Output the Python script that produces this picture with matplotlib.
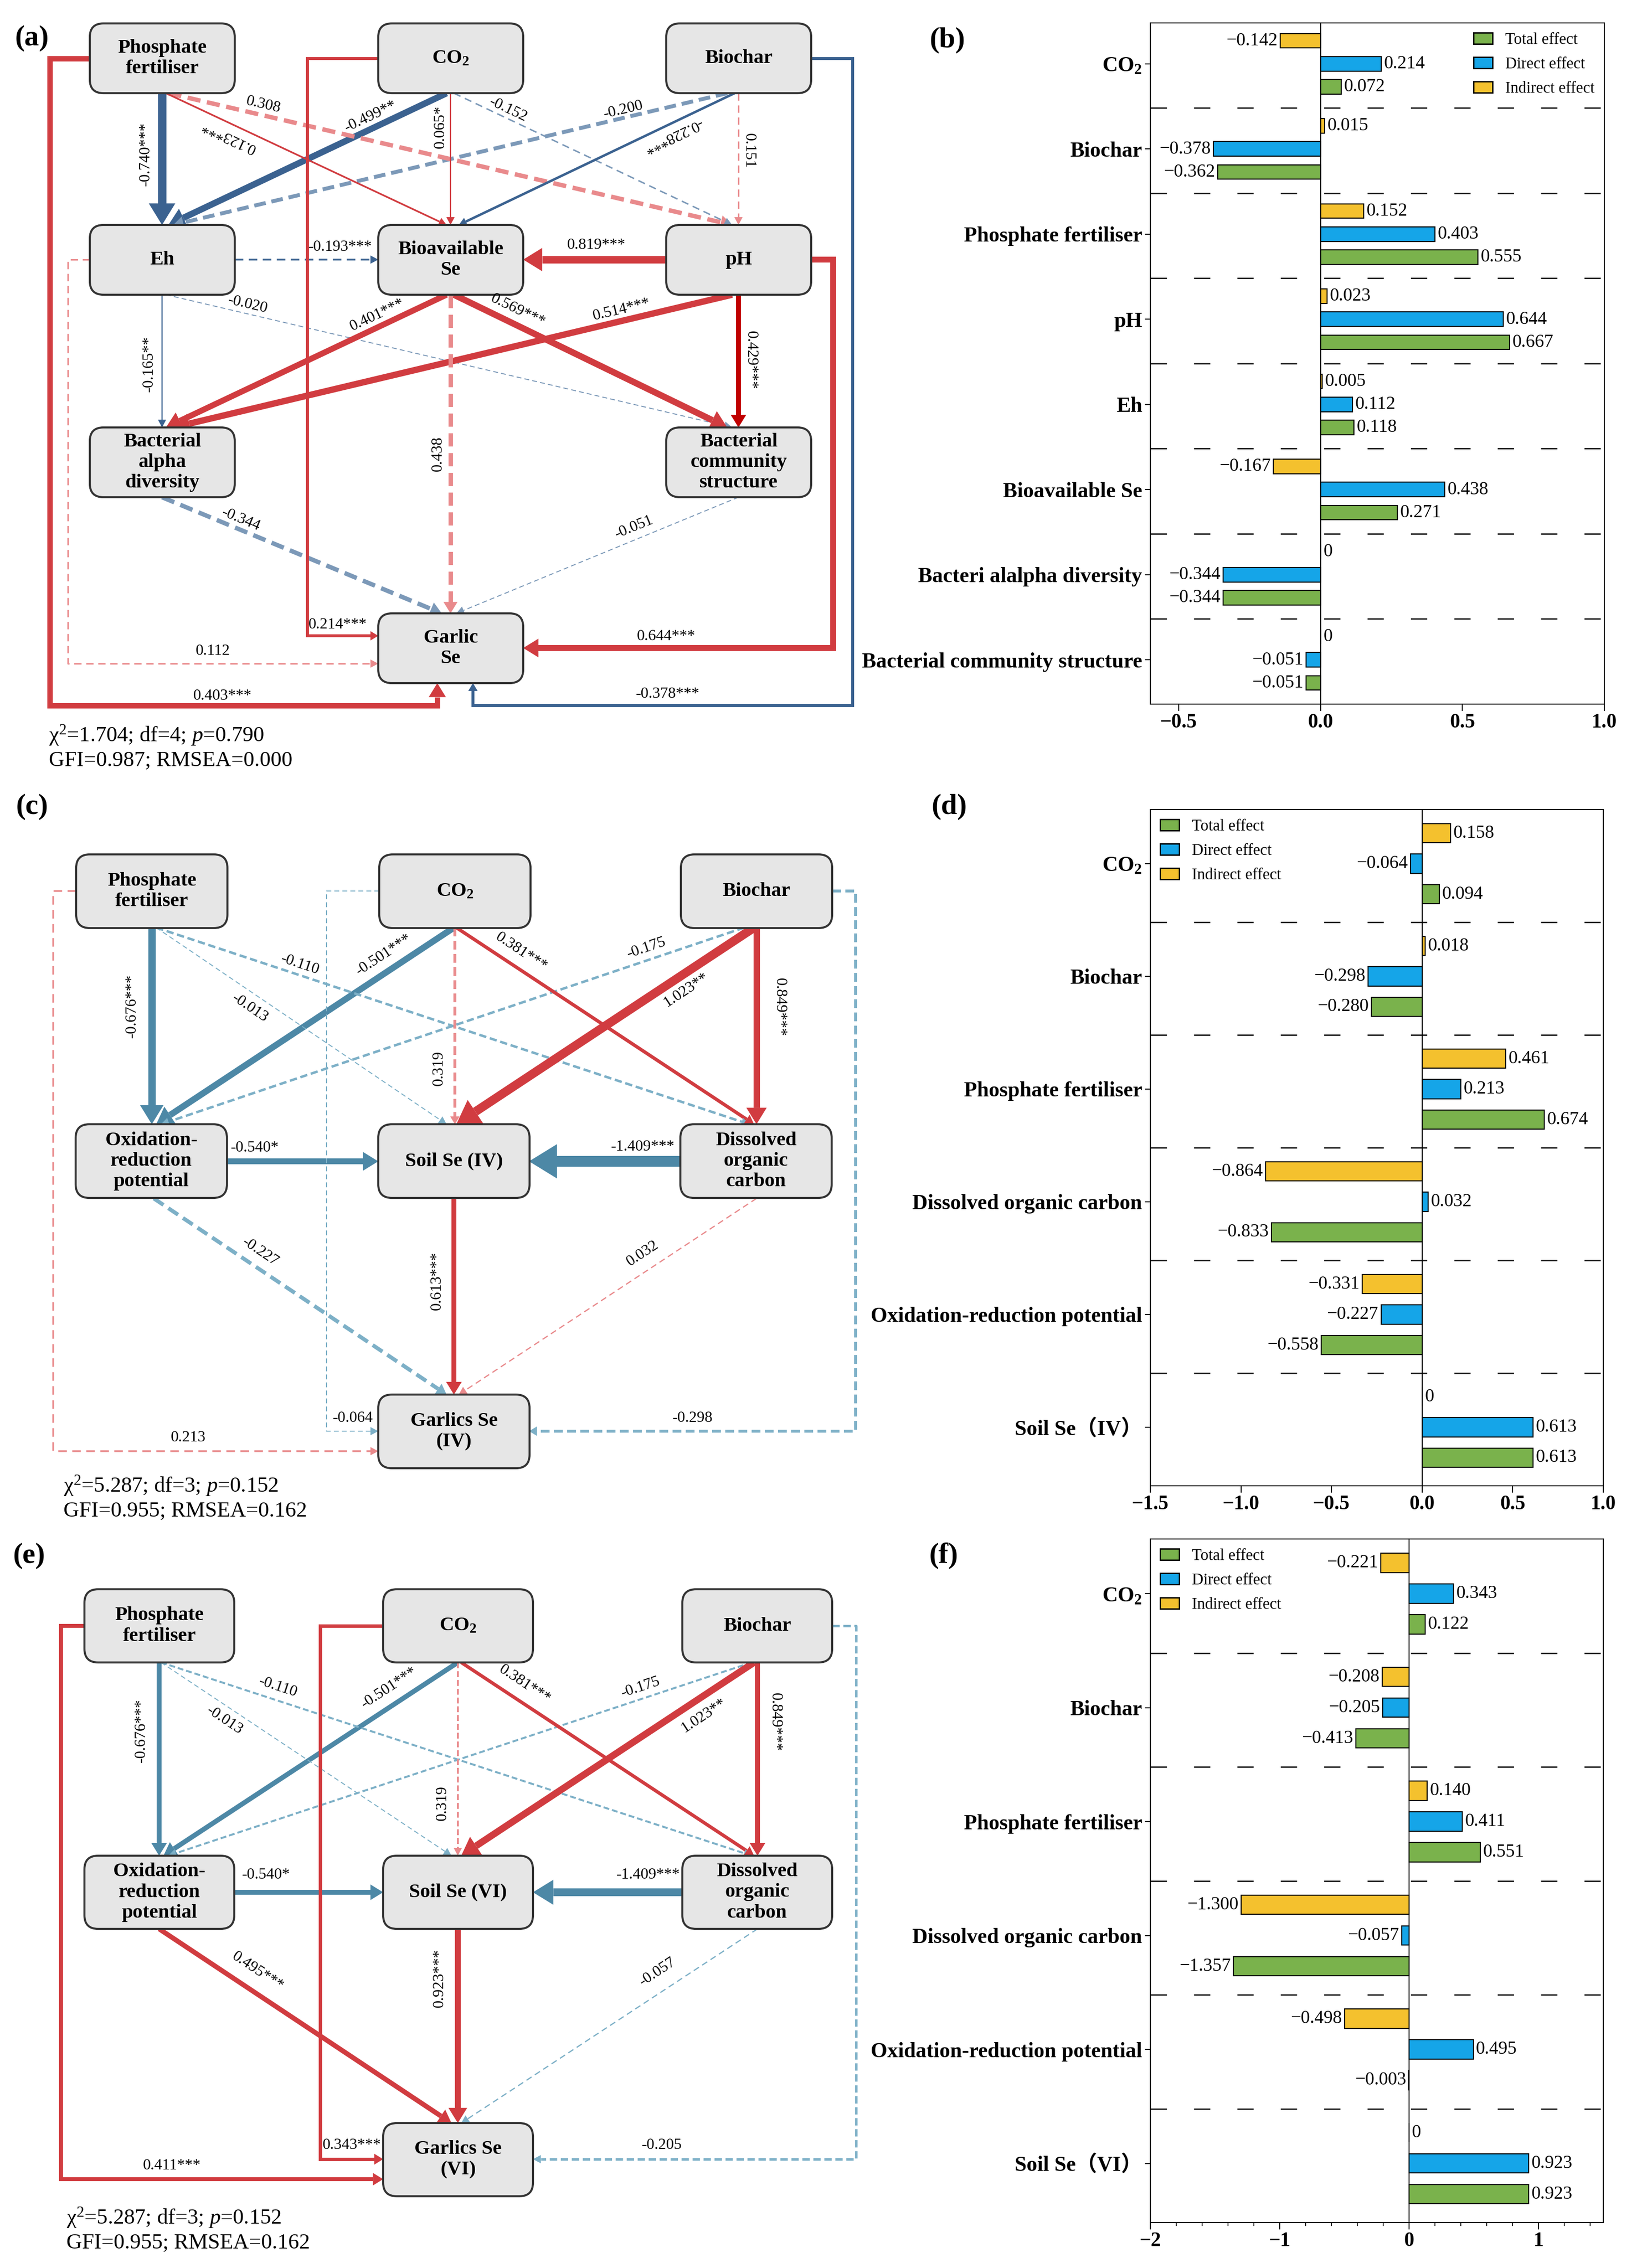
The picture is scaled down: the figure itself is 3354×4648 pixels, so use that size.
import numpy as np
import matplotlib
matplotlib.use('Agg')
import matplotlib.pyplot as plt
from matplotlib.patches import FancyBboxPatch, Polygon, Patch
from matplotlib.ticker import MultipleLocator

plt.rcParams['font.family'] = ['Liberation Serif', 'Noto Sans CJK SC', 'DejaVu Sans']
plt.rcParams['mathtext.fontset'] = 'custom'
plt.rcParams['mathtext.rm'] = 'Liberation Serif'
plt.rcParams['mathtext.it'] = 'Liberation Serif:italic'
plt.rcParams['mathtext.bf'] = 'Liberation Serif:bold'

W, H, DPI = 3355, 4648, 100
PT = 72.0 / DPI   # points per pixel

# ---------------- data: effect bar charts ----------------
b_cats = [r'$\mathbf{CO_2}$', 'Biochar', 'Phosphate fertiliser', 'pH', 'Eh',
          'Bioavailable Se', 'Bacteri alalpha diversity', 'Bacterial community structure']
b_total = [0.072, -0.362, 0.555, 0.667, 0.118, 0.271, -0.344, -0.051]
b_direct = [0.214, -0.378, 0.403, 0.644, 0.112, 0.438, -0.344, -0.051]
b_indirect = [-0.142, 0.015, 0.152, 0.023, 0.005, -0.167, 0, 0]

d_cats = [r'$\mathbf{CO_2}$', 'Biochar', 'Phosphate fertiliser', 'Dissolved organic carbon',
          'Oxidation-reduction potential', 'Soil Se（IV）']
d_total = [0.094, -0.280, 0.674, -0.833, -0.558, 0.613]
d_direct = [-0.064, -0.298, 0.213, 0.032, -0.227, 0.613]
d_indirect = [0.158, 0.018, 0.461, -0.864, -0.331, 0]

f_cats = [r'$\mathbf{CO_2}$', 'Biochar', 'Phosphate fertiliser', 'Dissolved organic carbon',
          'Oxidation-reduction potential', 'Soil Se（VI）']
f_total = [0.122, -0.413, 0.551, -1.357, -0.003, 0.923]
f_direct = [0.343, -0.205, 0.411, -0.057, 0.495, 0.923]
f_indirect = [-0.221, -0.208, 0.140, -1.300, -0.498, 0]

legend_labels = ['Total effect', 'Direct effect', 'Indirect effect']

# ---------------- data: path diagrams ----------------
names_a = {'PF': 'Phosphate\nfertiliser', 'CO2': r'$\mathbf{CO_2}$', 'BC': 'Biochar',
           'Eh': 'Eh', 'BSe': 'Bioavailable\nSe', 'pH': 'pH',
           'BA': 'Bacterial\nalpha\ndiversity', 'BCS': 'Bacterial\ncommunity\nstructure',
           'GSe': 'Garlic\nSe'}
coef_a = ['-0.740***', '-0.499**', '-0.200', '0.308', '0.123***', '0.065*', '-0.152',
          '-0.228***', '0.151', '-0.193***', '0.819***', '-0.165**', '-0.020', '0.401***',
          '0.514***', '0.569***', '0.429***', '0.438', '-0.344', '-0.051',
          '0.403***', '0.214***', '0.112', '0.644***', '-0.378***']
fit_a = [r'χ$^{2}$=1.704; df=4; $p$=0.790', 'GFI=0.987; RMSEA=0.000']

names_c = {'PF': 'Phosphate\nfertiliser', 'CO2': r'$\mathbf{CO_2}$', 'BC': 'Biochar',
           'ORP': 'Oxidation-\nreduction\npotential', 'SSe': 'Soil Se (IV)',
           'DOC': 'Dissolved\norganic\ncarbon', 'GSe': 'Garlics Se\n(IV)'}
coef_c = ['-0.676***', '-0.501***', '-0.175', '-0.110', '-0.013', '0.319', '0.381***',
          '1.023**', '0.849***', '-0.540*', '-1.409***', '-0.227', '0.613***', '0.032',
          '0.213', '-0.064', '-0.298']
fit_c = [r'χ$^{2}$=5.287; df=3; $p$=0.152', 'GFI=0.955; RMSEA=0.162']

names_e = dict(names_c, SSe='Soil Se (VI)', GSe='Garlics Se\n(VI)')
coef_e = ['-0.676***', '-0.501***', '-0.175', '-0.110', '-0.013', '0.319', '0.381***',
          '1.023**', '0.849***', '-0.540*', '-1.409***', '0.495***', '0.923***', '-0.057',
          '0.411***', '0.343***', '-0.205']
fit_e = fit_c

# ---------------- colours ----------------
R, RL, RD = '#d13c40', '#e98a8c', '#c00000'
B, BL = '#3b6290', '#7c99b8'
T, TL = '#4d88a6', '#7db0c7'
GRN, BLU, YEL = '#7ab24c', '#15a5e8', '#f4c12e'

fig = plt.figure(figsize=(W / DPI, H / DPI), dpi=DPI)
dg = fig.add_axes([0, 0, 1, 1])
dg.set_xlim(0, W)
dg.set_ylim(H, 0)
dg.axis('off')


def node(x0, y0, w, h, text):
    dg.add_patch(FancyBboxPatch((x0, y0), w, h, boxstyle='round,pad=0,rounding_size=28',
                                fc='#e6e6e6', ec='#333333', lw=3, zorder=5))
    dg.text(x0 + w / 2, y0 + h / 2, text, ha='center', va='center', fontsize=29.5,
            fontweight='bold', linespacing=1.18, zorder=6)


def arrow(pts, color, lw_px, dashed):
    pts = np.asarray(pts, float)
    hl, hw = max(16, 2.6 * lw_px), max(17, 3.2 * lw_px)
    p1, p2 = pts[-2], pts[-1]
    d = (p2 - p1) / np.hypot(*(p2 - p1))
    base = p2 - d * hl
    line = np.vstack([pts[:-1], base])
    if dashed:
        ls = (0, (5, 3.2)) if lw_px < 4 else (0, (3, 1.5))
    else:
        ls = '-'
    dg.plot(line[:, 0], line[:, 1], color=color, lw=lw_px * PT, ls=ls,
            solid_capstyle='butt', dash_capstyle='butt', solid_joinstyle='miter', zorder=2)
    n = np.array([-d[1], d[0]])
    dg.add_patch(Polygon([p2, base + n * hw / 2, base - n * hw / 2], closed=True,
                         fc=color, ec='none', zorder=3))


def edge_label(pts, text, xy, rot):
    if rot in ('auto', 'flip'):
        (x1, y1), (x2, y2) = pts[0], pts[-1]
        a = -np.degrees(np.arctan2(y2 - y1, x2 - x1))
        if a > 90:
            a -= 180
        if a <= -90:
            a += 180
        if rot == 'flip':
            a += 180
        rot = a
    dg.text(xy[0], xy[1], text, ha='center', va='center', fontsize=23, rotation=rot,
            rotation_mode='anchor', zorder=6)


def diagram(boxes, size, names, geo, coefs, fit, fit_xy, tag, tag_xy):
    for g, c in zip(geo, coefs):
        pts, col, lw, dashed, lxy, rot = g
        arrow(pts, col, lw, dashed)
        edge_label(pts, c, lxy, rot)
    for k, (x0, y0) in boxes.items():
        node(x0, y0, size[0], size[1], names[k])
    for i, s in enumerate(fit):
        dg.text(fit_xy[0], fit_xy[1] + i * 51, s, ha='left', va='center', fontsize=32)
    dg.text(tag_xy[0], tag_xy[1], tag, ha='left', va='center', fontsize=43, fontweight='bold')


# ---- panel (a) layout ----
boxes_a = {'PF': (184, 48), 'CO2': (775, 48), 'BC': (1365, 48),
           'Eh': (184, 461), 'BSe': (775, 461), 'pH': (1365, 461),
           'BA': (184, 876), 'BCS': (1365, 876), 'GSe': (775, 1257)}
geo_a = [
    ([(332, 191), (332, 461)], B, 17, False, (298, 316), 90),
    ([(915, 191), (345, 461)], B, 13, False, (759, 239), 'auto'),
    ([(1490, 191), (355, 461)], BL, 8, True, (1277, 225), 'auto'),
    ([(345, 191), (1500, 461)], RL, 9, True, (540, 215), 'auto'),
    ([(340, 191), (915, 461)], R, 3.5, False, (468, 280), 'flip'),
    ([(923, 191), (923, 461)], R, 2.5, False, (902, 260), 90),
    ([(930, 191), (1500, 461)], BL, 3, True, (1041, 225), 'auto'),
    ([(1505, 191), (940, 461)], B, 5, False, (1378, 278), 'flip'),
    ([(1513, 191), (1513, 461)], RL, 3, True, (1534, 309), -90),
    ([(481, 532), (775, 532)], B, 3.5, True, (697, 507), 0),
    ([(1365, 532), (1072, 532)], R, 15, False, (1222, 503), 0),
    ([(332, 604), (332, 876)], B, 2.5, False, (305, 746), 90),
    ([(340, 604), (1500, 876)], BL, 2, True, (508, 624), 'auto'),
    ([(915, 604), (340, 876)], R, 12, False, (773, 646), 'auto'),
    ([(1500, 604), (355, 876)], R, 13, False, (1273, 635), 'auto'),
    ([(930, 604), (1490, 876)], R, 13, False, (1061, 636), 'auto'),
    ([(1513, 604), (1513, 876)], RD, 10, False, (1538, 738), -90),
    ([(923, 604), (923, 1257)], RL, 9, True, (897, 930), 90),
    ([(332, 1019), (905, 1257)], BL, 9, True, (494, 1065), 'auto'),
    ([(1513, 1019), (935, 1257)], BL, 2, True, (1299, 1080), 'auto'),
    ([(184, 120), (102, 120), (102, 1446), (896, 1446), (896, 1400)], R, 11, False, (456, 1426), 0),
    ([(775, 120), (630, 120), (630, 1303), (775, 1303)], R, 6, False, (692, 1281), 0),
    ([(184, 532), (139, 532), (139, 1360), (775, 1360)], RL, 3, True, (436, 1335), 0),
    ([(1662, 532), (1707, 532), (1707, 1328), (1072, 1328)], R, 12, False, (1365, 1304), 0),
    ([(1662, 120), (1747, 120), (1747, 1446), (969, 1446), (969, 1400)], B, 6, False, (1368, 1423), 0),
]
diagram(boxes_a, (297, 143), names_a, geo_a, coef_a, fit_a, (100, 1507), '(a)', (30, 78))

# ---- panel (c) layout ----
boxes_c = {'PF': (156, 1751), 'CO2': (777, 1751), 'BC': (1395, 1751),
           'ORP': (155, 2304), 'SSe': (775, 2304), 'DOC': (1394, 2304), 'GSe': (775, 2858)}
geo_c = [
    ([(311, 1901), (311, 2304)], T, 15, False, (270, 2062), 90),
    ([(930, 1901), (320, 2304)], T, 13, False, (786, 1957), 'auto'),
    ([(1525, 1901), (330, 2304)], TL, 5, True, (1325, 1943), 'auto'),
    ([(320, 1901), (1535, 2304)], TL, 5, True, (615, 1977), 'auto'),
    ([(320, 1901), (915, 2304)], TL, 2, True, (512, 2066), 'auto'),
    ([(932, 1901), (932, 2304)], RL, 6, True, (899, 2189), 90),
    ([(935, 1901), (1545, 2304)], R, 7, False, (1068, 1951), 'auto'),
    ([(1545, 1901), (935, 2304)], R, 18, False, (1405, 2029), 'auto'),
    ([(1550, 1901), (1550, 2304)], R, 13, False, (1597, 2064), -90),
    ([(465, 2380), (775, 2380)], T, 12, False, (522, 2352), 0),
    ([(1394, 2380), (1084, 2380)], T, 22, False, (1317, 2350), 0),
    ([(315, 2456), (915, 2858)], TL, 8, True, (533, 2566), 'auto'),
    ([(930, 2456), (930, 2858)], R, 10, False, (895, 2625), 90),
    ([(1550, 2456), (940, 2858)], RL, 2.5, True, (1317, 2569), 'auto'),
    ([(156, 1826), (109, 1826), (109, 2974), (775, 2974)], RL, 3.5, True, (386, 2947), 0),
    ([(777, 1826), (669, 1826), (669, 2933), (775, 2933)], TL, 2, True, (723, 2906), 0),
    ([(1705, 1826), (1753, 1826), (1753, 2933), (1084, 2933)], TL, 6, True, (1419, 2906), 0),
]
diagram(boxes_c, (310, 151), names_c, geo_c, coef_c, fit_c, (130, 3045), '(c)', (32, 1653))

# ---- panel (e) layout ----
boxes_e = {'PF': (173, 3257), 'CO2': (785, 3257), 'BC': (1398, 3257),
           'ORP': (173, 3803), 'SSe': (785, 3803), 'DOC': (1398, 3803), 'GSe': (785, 4351)}
geo_e = [
    ([(326, 3407), (326, 3803)], T, 10, False, (289, 3547), 90),
    ([(938, 3407), (335, 3803)], T, 10, False, (797, 3459), 'auto'),
    ([(1540, 3407), (345, 3803)], TL, 4, True, (1313, 3458), 'auto'),
    ([(330, 3407), (1540, 3803)], TL, 4, True, (570, 3458), 'auto'),
    ([(330, 3407), (925, 3803)], TL, 2, True, (460, 3526), 'auto'),
    ([(938, 3407), (938, 3803)], RL, 4, True, (906, 3695), 90),
    ([(945, 3407), (1545, 3803)], R, 7, False, (1075, 3452), 'auto'),
    ([(1545, 3407), (945, 3803)], R, 14, False, (1441, 3516), 'auto'),
    ([(1552, 3407), (1552, 3803)], R, 10, False, (1588, 3529), -90),
    ([(479, 3878), (785, 3878)], T, 10, False, (545, 3843), 0),
    ([(1398, 3878), (1092, 3878)], T, 16, False, (1328, 3843), 0),
    ([(326, 3953), (925, 4351)], R, 10, False, (528, 4040), 'auto'),
    ([(938, 3953), (938, 4351)], R, 12, False, (900, 4054), 90),
    ([(1552, 3953), (945, 4351)], TL, 2.5, True, (1347, 4041), 'auto'),
    ([(173, 3332), (125, 3332), (125, 4466), (785, 4466)], R, 8, False, (352, 4439), 0),
    ([(785, 3332), (656, 3332), (656, 4425), (785, 4425)], R, 7, False, (721, 4396), 0),
    ([(1705, 3332), (1754, 3332), (1754, 4425), (1092, 4425)], TL, 5, True, (1356, 4396), 0),
]
diagram(boxes_e, (307, 150), names_e, geo_e, coef_e, fit_e, (136, 4545), '(e)', (26, 3188))


# ---------------- effect bar charts ----------------
def effect_panel(box, cats, total, direct, indirect, xlim, major, minor, loc, anchor, tag, tag_xy):
    left, right, top, bottom = box
    ax = fig.add_axes([left / W, 1 - bottom / H, (right - left) / W, (bottom - top) / H])
    y = np.arange(len(cats))
    for vals, off, col in ((indirect, -0.29, YEL), (direct, -0.02, BLU), (total, 0.25, GRN)):
        ax.barh(y + off, vals, height=0.17, color=col, edgecolor='black', linewidth=1.6, zorder=3)
        for yy, v in zip(y + off, vals):
            txt = '0' if v == 0 else f'{v:.3f}'.replace('-', '\u2212')
            ax.annotate(txt, (v, yy), xytext=(4 if v >= 0 else -4, 0), textcoords='offset points',
                        ha='left' if v >= 0 else 'right', va='center', fontsize=27)
    for i in range(len(cats) - 1):
        ax.axhline(i + 0.5, color='#1a1a1a', lw=2, ls=(0, (12, 20)), zorder=1)
    ax.axvline(0, color='black', lw=1.5, zorder=2)
    ax.set_ylim(len(cats) - 0.5, -0.5)
    ax.set_xlim(*xlim)
    ax.set_yticks(y - 0.02)
    ax.set_yticklabels(cats, fontsize=31.5, fontweight='bold')
    ax.xaxis.set_major_locator(MultipleLocator(major))
    if minor:
        ax.xaxis.set_minor_locator(MultipleLocator(minor))
    for lab in ax.get_xticklabels():
        lab.set_fontweight('bold')
    ax.tick_params(axis='x', labelsize=30, length=10, width=1.5)
    ax.tick_params(axis='x', which='minor', length=5, width=1.2)
    ax.tick_params(axis='y', length=8, width=1.5, pad=4)
    for s in ax.spines.values():
        s.set_linewidth(1.5)
    handles = [Patch(fc=GRN, ec='black', lw=2), Patch(fc=BLU, ec='black', lw=2),
               Patch(fc=YEL, ec='black', lw=2)]
    ax.legend(handles, legend_labels, loc=loc, bbox_to_anchor=anchor, frameon=False, fontsize=23.5,
              handlelength=1.2, handleheight=0.7, handletextpad=0.8, labelspacing=0.6,
              borderaxespad=0.2)
    fig.text(tag_xy[0] / W, 1 - tag_xy[1] / H, tag, ha='left', va='center', fontsize=43,
             fontweight='bold')
    return ax


effect_panel((2357, 3287, 47, 1443), b_cats, b_total, b_direct, b_indirect, (-0.6, 1.0), 0.5, None,
             'upper right', (1.0, 1.0), '(b)', (1904, 82))
effect_panel((2357, 3285, 1659, 3045), d_cats, d_total, d_direct, d_indirect, (-1.5, 1.0), 0.5, None,
             'upper left', (0.0, 1.0), '(d)', (1908, 1653))
effect_panel((2357, 3285, 3154, 4555), f_cats, f_total, f_direct, f_indirect, (-2.0, 1.5), 1, 0.2,
             'upper left', (0.0, 1.0), '(f)', (1903, 3189))

fig.savefig('out.png', dpi=DPI)
